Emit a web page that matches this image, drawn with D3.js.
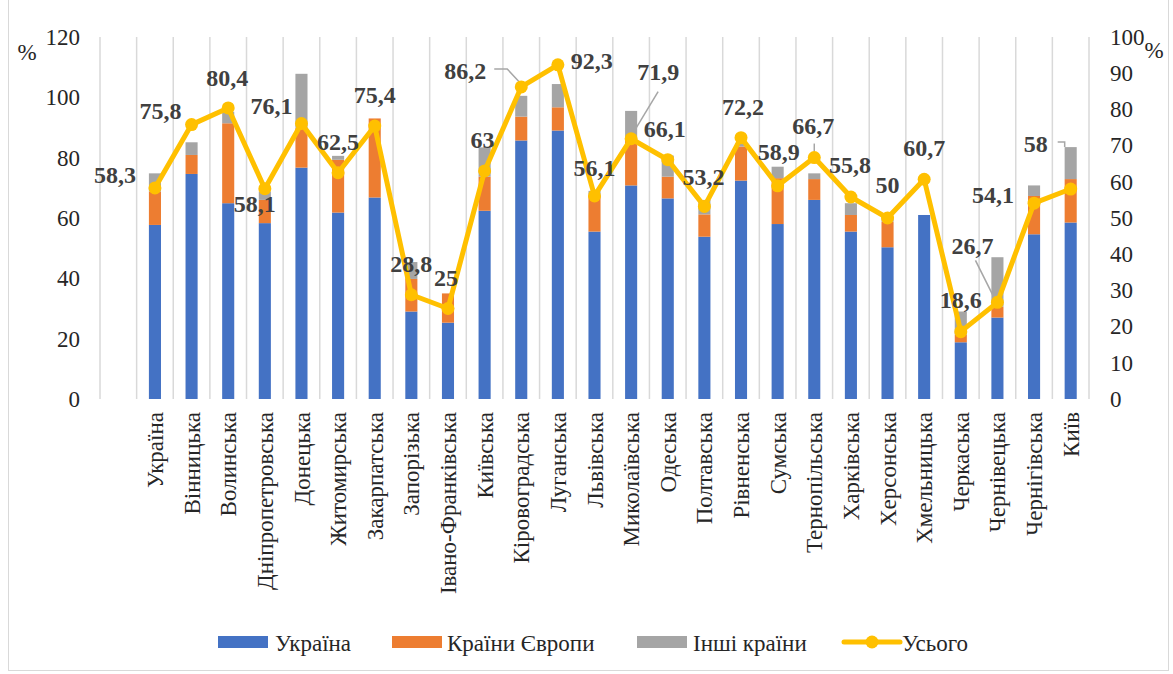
<!DOCTYPE html>
<html>
<head>
<meta charset="utf-8">
<script src="https://cdn.jsdelivr.net/npm/d3@7/dist/d3.min.js"></script>
<style>
  html, body { margin: 0; padding: 0; background: #fff; }
  svg { display: block; }
</style>
</head>
<body>
<svg id="chart" width="1173" height="674">
  <text x="27" y="52" dy="0.35em" text-anchor="middle" font-family="Liberation Serif" font-size="23" fill="#262626">%</text>
  <text x="1154" y="50" dy="0.35em" text-anchor="middle" font-family="Liberation Serif" font-size="23" fill="#262626" font-weight="normal">%</text>
  <g id="plot"></g>
</svg>
<script>
// Regions (first slot is an empty category at the left of the plot)
const categories = ["", "Україна", "Вінницька", "Волинська", "Дніпропетровська", "Донецька",
  "Житомирська", "Закарпатська", "Запорізька", "Івано-Франківська", "Київська",
  "Кіровоградська", "Луганська", "Львівська", "Миколаївська", "Одеська", "Полтавська",
  "Рівненська", "Сумська", "Тернопільська", "Харківська", "Херсонська", "Хмельницька",
  "Черкаська", "Чернівецька", "Чернігівська", "Київ"];

// Stacked shares, left axis (%)
const ukraine = [null, 57.7, 74.6, 64.9, 58.3, 76.7, 61.8, 66.8, 29.0, 25.3, 62.4, 85.7, 89.0,
  55.5, 70.8, 66.5, 53.8, 72.4, 58.0, 66.0, 55.5, 50.3, 61.0, 18.8, 27.0, 54.6, 58.5];
const europe = [null, 11.1, 6.3, 26.5, 7.7, 13.2, 17.5, 26.2, 10.8, 9.7, 11.3, 7.9, 7.7,
  12.0, 15.1, 7.2, 7.4, 11.3, 15.2, 6.9, 5.5, 8.5, 0, 2.5, 3.6, 12.7, 14.4];
const otherCountries = [null, 6.0, 4.2, 3.8, 2.8, 17.9, 1.3, 0, 5.6, 0, 9.7, 6.9, 7.7,
  1.5, 9.6, 7.0, 4.8, 1.0, 3.8, 1.9, 3.9, 1.5, 0, 7.7, 16.4, 3.5, 10.6];

// Total, right axis (%)
const total = [null, 58.3, 75.8, 80.4, 58.1, 76.1, 62.5, 75.4, 28.8, 25, 63, 86.2, 92.3,
  56.1, 71.9, 66.1, 53.2, 72.2, 58.9, 66.7, 55.8, 50, 60.7, 18.6, 26.7, 54.1, 58];

const leftTicks = [0, 20, 40, 60, 80, 100, 120];
const rightTicks = [0, 10, 20, 30, 40, 50, 60, 70, 80, 90, 100];

const seriesNames = ["Україна", "Країни Європи", "Інші країни", "Усього"];
const colors = ["#4472C4", "#ED7D31", "#A5A5A5", "#FFC000"];

// Label offsets from each point (dx, dy of the label centre)
const labelOffsets = [null, [-40, -13], [-31, -14], [-1, -30], [-10, 15], [-30, -18], [0, -31],
  [0, -31], [0, -31], [-2, -31], [-2, -31], [-56, -16], [34, -4], [0, -28], [27, -67],
  [-3, -31], [-1, -30], [2, -31], [1, -34], [-1, -32], [-1, -32], [0, -33], [0, -32],
  [0, -32], [-25, -57], [-41, -9], [-35, -45]];
// Leader lines for labels moved away from their points (relative to the point)
const leaders = {
  11: [[-27, -18], [-14, -18], [-1, -4]],
  14: [[27, -47], [1, -4]],
  19: [[0, -14], [0, -6]],
  24: [[-22, -42], [-2, -2]],
  26: [[-13, -47], [-6, -47], [-6, -42]]
};

const FONT = "Liberation Serif";
const TEXT = "#262626";
const plot = { left: 100, right: 1089, top: 37, bottom: 399 };

function draw() {
  const svg = d3.select("#plot");
  svg.selectAll("*").remove();

  const x = d3.scaleBand().domain(d3.range(categories.length))
    .range([plot.left, plot.right]).padding(0);
  const yL = d3.scaleLinear().domain([0, 120]).range([plot.bottom, plot.top]);
  const yR = d3.scaleLinear().domain([0, 100]).range([plot.bottom, plot.top]);

  // outer frame
  svg.append("rect").attr("x", 8.5).attr("y", -2).attr("width", 1160).attr("height", 672.5)
    .attr("fill", "none").attr("stroke", "#d9d9d9").attr("stroke-width", 1);

  // vertical gridlines at category boundaries
  const bounds = d3.range(categories.length + 1).map(i => plot.left + i * x.step());
  svg.append("g").selectAll("line").data(bounds).join("line")
    .attr("x1", d => d).attr("x2", d => d)
    .attr("y1", plot.top).attr("y2", plot.bottom)
    .attr("stroke", "#d9d9d9").attr("stroke-width", 1.5);

  // left axis
  const axisFont = 23;
  const gL = svg.append("g").attr("transform", `translate(80,0)`)
    .call(d3.axisLeft(yL).tickValues(leftTicks).tickSize(0).tickPadding(0));
  gL.attr("font-family", FONT).attr("font-size", axisFont);
  gL.select(".domain").remove();
  gL.selectAll("text").attr("fill", TEXT);

  // right axis
  const gR = svg.append("g").attr("transform", `translate(1110,0)`)
    .call(d3.axisRight(yR).tickValues(rightTicks).tickSize(0).tickPadding(0));
  gR.attr("font-family", FONT).attr("font-size", axisFont);
  gR.select(".domain").remove();
  gR.selectAll("text").attr("fill", TEXT);

  // stacked bars
  const rows = categories.map((c, i) => ({ i, ukraine: ukraine[i] || 0, europe: europe[i] || 0, other: otherCountries[i] || 0 }))
    .filter(d => d.i > 0);
  const stack = d3.stack().keys(["ukraine", "europe", "other"])(rows);
  const barW = x.bandwidth() * 0.33;
  svg.append("g").selectAll("g").data(stack).join("g")
    .attr("fill", (d, k) => colors[k])
    .selectAll("rect").data(d => d).join("rect")
    .attr("x", d => x(d.data.i) + (x.bandwidth() - barW) / 2)
    .attr("width", barW)
    .attr("y", d => yL(d[1]))
    .attr("height", d => yL(d[0]) - yL(d[1]));

  // category labels
  const cx = i => x(i) + x.bandwidth() / 2;
  svg.append("g").selectAll("text").data(categories.map((c, i) => ({ c, i })).filter(d => d.i > 0)).join("text")
    .attr("transform", d => `translate(${cx(d.i)},412) rotate(-90)`)
    .attr("dy", "0.35em").attr("text-anchor", "end")
    .attr("font-family", FONT).attr("font-size", 23).attr("fill", TEXT).text(d => d.c);

  // total line
  const pts = total.map((v, i) => ({ v, i })).filter(d => d.v != null);
  svg.append("path").datum(pts)
    .attr("d", d3.line().x(d => cx(d.i)).y(d => yR(d.v)))
    .attr("fill", "none").attr("stroke", colors[3]).attr("stroke-width", 5)
    .attr("stroke-linejoin", "round");

  // leader lines
  Object.entries(leaders).forEach(([k, p]) => {
    const i = +k;
    svg.append("path")
      .attr("d", d3.line()(p.map(q => [cx(i) + q[0], yR(total[i]) + q[1]])))
      .attr("fill", "none").attr("stroke", "#A6A6A6").attr("stroke-width", 1.5);
  });

  svg.append("g").selectAll("circle").data(pts).join("circle")
    .attr("cx", d => cx(d.i)).attr("cy", d => yR(d.v)).attr("r", 6.5)
    .attr("fill", colors[3]);

  // value labels
  const fmt = v => String(v).replace(".", ",");
  svg.append("g").selectAll("text").data(pts).join("text")
    .attr("x", d => cx(d.i) + labelOffsets[d.i][0])
    .attr("y", d => yR(d.v) + labelOffsets[d.i][1])
    .attr("dy", "0.35em").attr("text-anchor", "middle")
    .attr("font-family", FONT).attr("font-size", 24).attr("font-weight", "bold").attr("fill", "#404040")
    .text(d => fmt(d.v));

  // legend
  const legend = svg.append("g");
  const legendItems = [
    { sx: 218, tx: 275 }, { sx: 392, tx: 447 }, { sx: 637, tx: 693 }, { sx: 844, tx: 902 }
  ];
  legendItems.forEach((it, k) => {
    if (k < 3) {
      legend.append("rect").attr("x", it.sx).attr("y", 636).attr("width", 50).attr("height", 12)
        .attr("fill", colors[k]);
    } else {
      legend.append("line").attr("x1", it.sx).attr("x2", it.sx + 56).attr("y1", 642).attr("y2", 642)
        .attr("stroke", colors[k]).attr("stroke-width", 5).attr("stroke-linecap", "round");
      legend.append("circle").attr("cx", it.sx + 28).attr("cy", 642).attr("r", 6.5).attr("fill", colors[k]);
    }
    legend.append("text").attr("x", it.tx).attr("y", 643).attr("dy", "0.35em")
      .attr("font-family", FONT).attr("font-size", 23).attr("fill", TEXT).text(seriesNames[k]);
  });
}

draw();
if (document.fonts && document.fonts.ready) document.fonts.ready.then(draw);
</script>
</body>
</html>
